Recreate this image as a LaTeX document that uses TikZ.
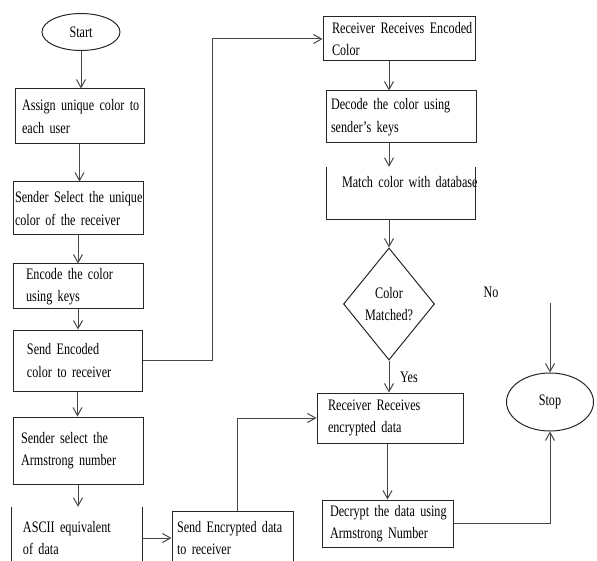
\documentclass[tikz,border=0pt]{standalone}
\usepackage{fontspec}
\setmainfont{Liberation Serif}[FakeStretch=0.76]
\usetikzlibrary{shapes.geometric,arrows.meta}
\newcommand\myboxfont{\fontsize{16}{22.5}\selectfont\spaceskip 2.8pt plus 1pt\relax}
\begin{document}
\begin{tikzpicture}[x=1pt,y=-1pt,
  txtfont/.style={font=\myboxfont},
  conn/.style={draw=black!72, line width=1pt},
  arr/.style={conn, -{Straight Barb[length=8pt,width=9pt]}},
  boxline/.style={draw=black!85, line width=1pt},
  box/.style={boxline, txtfont, align=left, inner ysep=0pt},
  openbox/.style={txtfont, align=left, inner ysep=0pt},
  term/.style={ellipse, boxline, txtfont, inner sep=0pt},
  decision/.style={diamond, boxline, txtfont, align=center, inner sep=0pt},
  lbl/.style={txtfont, inner sep=0pt}]
\useasboundingbox (0,0) rectangle (597,561);
\clip (0,0) rectangle (597,561);

% left column
\node[term, minimum width=78, minimum height=37] (start) at (81,32) {Start};
\node[box, minimum height=55, text width=115, inner xsep=7] (b1) at (79.5,116.5)
  {\mbox{Assign unique color to}\\\mbox{each user}};
\node[box, minimum height=53, text width=126, inner xsep=2] (b2) at (78,208.5)
  {\mbox{Sender Select the unique}\\\mbox{color of the receiver}};
\node[box, minimum height=45, text width=104, inner xsep=13] (b3) at (78,286.5)
  {\mbox{Encode the color}\\\mbox{using keys}};
\node[box, minimum height=61, text width=101, inner xsep=14] (b4) at (77.5,360.5)
  {\mbox{Send Encoded}\\\mbox{color to receiver}};
\node[box, minimum height=67, text width=114, inner xsep=8] (b5) at (78,450.5)
  {\mbox{Sender select the}\\\mbox{Armstrong number}};
\node[openbox, minimum height=62, text width=108, inner xsep=11] (b6) at (77,538)
  {\mbox{ASCII equivalent}\\\mbox{of data}};
\draw[boxline] (b6.north west) -- (b6.south west);
\draw[boxline] (b6.north east) -- (b6.south east);
\node[box, minimum height=54, text width=111, inner xsep=5] (b7) at (232.5,538)
  {\mbox{Send Encrypted data}\\\mbox{to receiver}};

% right column
\node[box, minimum height=44, text width=134, inner xsep=9] (r1) at (399,39)
  {\mbox{Receiver Receives Encoded}\\\mbox{Color}};
\node[box, minimum height=52, text width=140, inner xsep=5] (r2) at (401,117)
  {\mbox{Decode the color using}\\\mbox{sender's keys}};
\node[openbox, minimum height=52, text width=118, inner xsep=15] (r3) at (401,193)
  {\mbox{Match color with database}\\\mbox{}};
\draw[boxline] (r3.north west) -- (r3.south west) -- (r3.south east) -- (r3.north east);
\node[decision, minimum width=91, minimum height=112] (dia) at (389,304)
  {Color\\Matched?};
\node[box, minimum height=50, text width=124, inner xsep=11] (r4) at (390,418)
  {\mbox{Receiver Receives}\\\mbox{encrypted data}};
\node[box, minimum height=47, text width=115, inner xsep=8] (r5) at (387.5,523.5)
  {\mbox{Decrypt the data using}\\\mbox{Armstrong Number}};
\node[term, minimum width=87, minimum height=58] (stop) at (550,402) {Stop};
\node[lbl] (no) at (491,292) {No};
\node[lbl] (yes) at (409,377) {Yes};
\coordinate (nofree) at (550,303);

% connectors
\draw[arr] (start.south) -- (start.south |- b1.north);
\draw[arr] (b1.south) -- (b1.south |- b2.north);
\draw[arr] (b2.south) -- (b2.south |- b3.north);
\draw[arr] (b3.south) -- (b3.south |- b4.north);
\draw[arr] (b4.south) -- (b4.south |- b5.north);
\draw[arr] (b5.south) -- (b5.south |- b6.north);
\draw[arr] (b4.east) -- ++(70,0) |- (r1.west);
\draw[arr] (b6.east) -- (b7.west);
\draw[arr] ([xshift=4.5pt]b7.north) |- (r4.west);
\draw[arr] (r1.south -| dia.north) -- (r2.north -| dia.north);
\draw[arr] (r2.south -| dia.north) -- (r3.north -| dia.north);
\draw[arr] (r3.south -| dia.north) -- (dia.north);
\draw[arr] (dia.south) -- (dia.south |- r4.north);
\draw[arr] (r4.south -| r5.north) -- (r5.north);
\draw[arr] (r5.east) -| (stop.south);
\draw[arr] (nofree) -- (stop.north);
\end{tikzpicture}
\end{document}
